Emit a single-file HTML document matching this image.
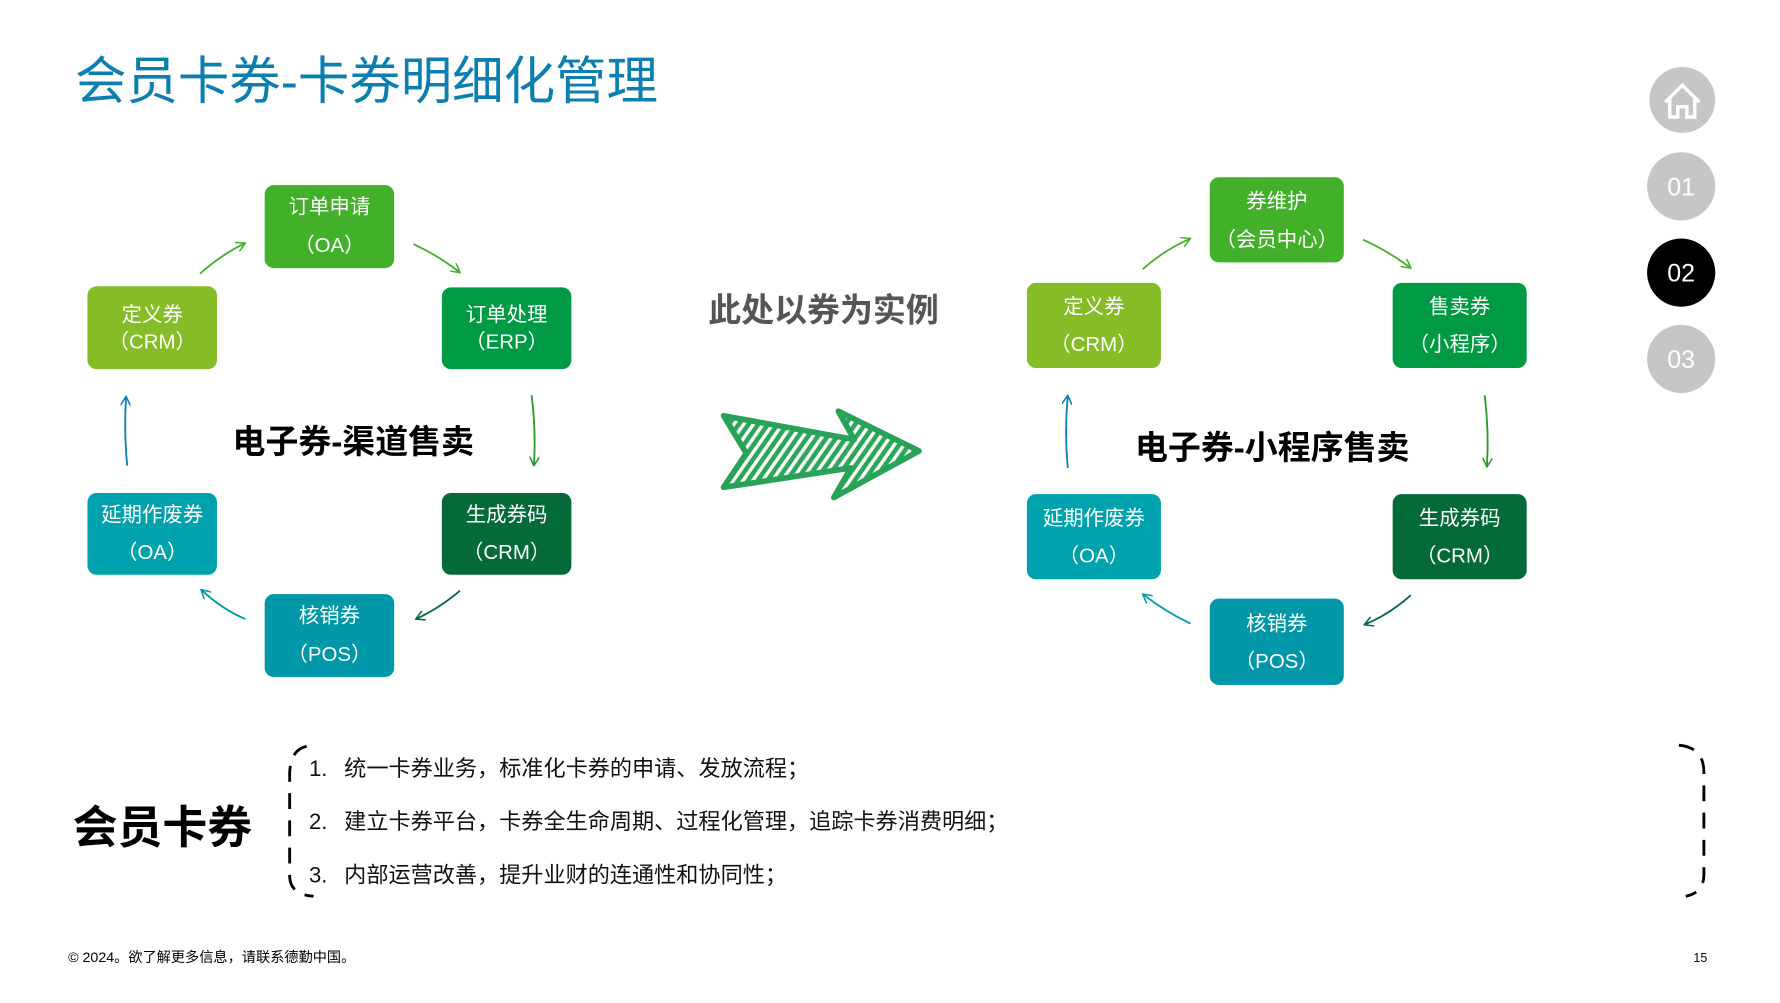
<!DOCTYPE html>
<html><head><meta charset="utf-8"><style>
html,body{margin:0;padding:0;background:#fff;}
svg{display:block;}
text{font-family:"Liberation Sans","Noto Sans CJK SC",sans-serif;}
</style></head><body>
<svg width="1780" height="1003" viewBox="0 0 1567 883" preserveAspectRatio="none" xmlns="http://www.w3.org/2000/svg">
<defs>
<pattern id="h" width="7" height="7" patternUnits="userSpaceOnUse" patternTransform="rotate(35)">
<rect width="7" height="7" fill="#2aa858"/><rect width="3" height="7" fill="#fff"/>
</pattern>
<marker id="a" viewBox="0 0 10 10" refX="9" refY="5" markerWidth="9" markerHeight="9" orient="auto-start-reverse" markerUnits="userSpaceOnUse"><path d="M0,0 L9,5 L0,10" fill="none" stroke="context-stroke" stroke-width="1.5"/></marker>
</defs>
<text x="66" y="87" font-size="45.3" fill="#0a7fb0">会员卡券-卡券明细化管理</text>

<!-- nav -->
<circle cx="1481" cy="88" r="29" fill="#c6c6c6"/>
<path d="M1466,90 L1481,75 L1496,90 M1470,87 V103 H1477 V94 H1485 V103 H1492 V87" fill="none" stroke="#fff" stroke-width="3"/>
<circle cx="1480" cy="164" r="30" fill="#c6c6c6"/><text x="1480" y="172" font-size="22" fill="#fff" text-anchor="middle">01</text>
<circle cx="1480" cy="240" r="30" fill="#000"/><text x="1480" y="248" font-size="22" fill="#fff" text-anchor="middle">02</text>
<circle cx="1480" cy="316" r="30" fill="#c6c6c6"/><text x="1480" y="324" font-size="22" fill="#fff" text-anchor="middle">03</text>

<g font-size="18" fill="#fff" text-anchor="middle">
<rect x="233" y="163" width="114" height="73" rx="8" fill="#43b02a"/><text x="290" y="188">订单申请</text><text x="290" y="222">（OA）</text>
<rect x="77" y="252" width="114" height="73" rx="8" fill="#86bc25"/><text x="134" y="283">定义券</text><text x="134" y="307">（CRM）</text>
<rect x="389" y="253" width="114" height="72" rx="8" fill="#009a44"/><text x="446" y="283">订单处理</text><text x="446" y="307">（ERP）</text>
<rect x="77" y="434" width="114" height="72" rx="8" fill="#00a3ad"/><text x="134" y="459">延期作废券</text><text x="134" y="492">（OA）</text>
<rect x="389" y="434" width="114" height="72" rx="8" fill="#046a38"/><text x="446" y="459">生成券码</text><text x="446" y="492">（CRM）</text>
<rect x="233" y="523" width="114" height="73" rx="8" fill="#0097a9"/><text x="290" y="548">核销券</text><text x="290" y="582">（POS）</text>
<rect x="1065" y="156" width="118" height="75" rx="8" fill="#43b02a"/><text x="1124" y="183">券维护</text><text x="1124" y="217">（会员中心）</text>
<rect x="904" y="249" width="118" height="75" rx="8" fill="#86bc25"/><text x="963" y="276">定义券</text><text x="963" y="309">（CRM）</text>
<rect x="1226" y="249" width="118" height="75" rx="8" fill="#009a44"/><text x="1285" y="276">售卖券</text><text x="1285" y="309">（小程序）</text>
<rect x="904" y="435" width="118" height="75" rx="8" fill="#00a3ad"/><text x="963" y="462">延期作废券</text><text x="963" y="495">（OA）</text>
<rect x="1226" y="435" width="118" height="75" rx="8" fill="#046a38"/><text x="1285" y="462">生成券码</text><text x="1285" y="495">（CRM）</text>
<rect x="1065" y="527" width="118" height="76" rx="8" fill="#0097a9"/><text x="1124" y="555">核销券</text><text x="1124" y="588">（POS）</text>
</g>

<g fill="none" stroke-width="1.6" marker-end="url(#a)">
<path d="M176,241 Q195,224 216,214" stroke="#43b02a"/>
<path d="M364,215 Q386,225 405,240" stroke="#43b02a"/>
<path d="M468,348 Q472,380 470,410" stroke="#2a9a2a"/>
<path d="M405,520 Q386,536 366,545" stroke="#046a38"/>
<path d="M216,545 Q195,536 177,519" stroke="#0097a9"/>
<path d="M112,410 Q109,380 111,349" stroke="#0a7fb0"/>
<path d="M1006,237 Q1025,220 1048,210" stroke="#43b02a"/>
<path d="M1200,211 Q1222,221 1242,236" stroke="#43b02a"/>
<path d="M1307,348 Q1311,380 1309,411" stroke="#2a9a2a"/>
<path d="M1242,524 Q1223,541 1201,550" stroke="#046a38"/>
<path d="M1048,549 Q1025,538 1006,523" stroke="#0097a9"/>
<path d="M940,412 Q937,380 940,348" stroke="#0a7fb0"/>
</g>

<text x="311" y="399" font-size="29" font-weight="bold" fill="#000" text-anchor="middle">电子券-渠道售卖</text>
<text x="1120" y="404" font-size="29" font-weight="bold" fill="#000" text-anchor="middle">电子券-小程序售卖</text>
<text x="725" y="283" font-size="29" font-weight="bold" fill="#555" text-anchor="middle">此处以券为实例</text>

<polygon points="637,366 752,387 738,362 809,397 734,438 749,412 637,429 657,399" fill="url(#h)" stroke="#27a257" stroke-width="5" stroke-linejoin="round"/>

<text x="64" y="742" font-size="39.5" font-weight="bold" fill="#000">会员卡券</text>
<path d="M270,657 Q256,660 255,680 V772 Q256,788 276,789" fill="none" stroke="#000" stroke-width="2.5" stroke-dasharray="14,10"/>
<path d="M1478,656 Q1500,658 1500,680 V770 Q1500,786 1484,789" fill="none" stroke="#000" stroke-width="2.5" stroke-dasharray="14,10"/>
<g font-size="19.5" fill="#111">
<text x="272" y="683">1.</text><text x="303" y="683">统一卡券业务，标准化卡券的申请、发放流程；</text>
<text x="272" y="730">2.</text><text x="303" y="730">建立卡券平台，卡券全生命周期、过程化管理，追踪卡券消费明细；</text>
<text x="272" y="777">3.</text><text x="303" y="777">内部运营改善，提升业财的连通性和协同性；</text>
</g>
<text x="60" y="847" font-size="12.5" fill="#000">© 2024。欲了解更多信息，请联系德勤中国。</text>
<text x="1503" y="847" font-size="11" fill="#000" text-anchor="end">15</text>
</svg>
</body></html>
